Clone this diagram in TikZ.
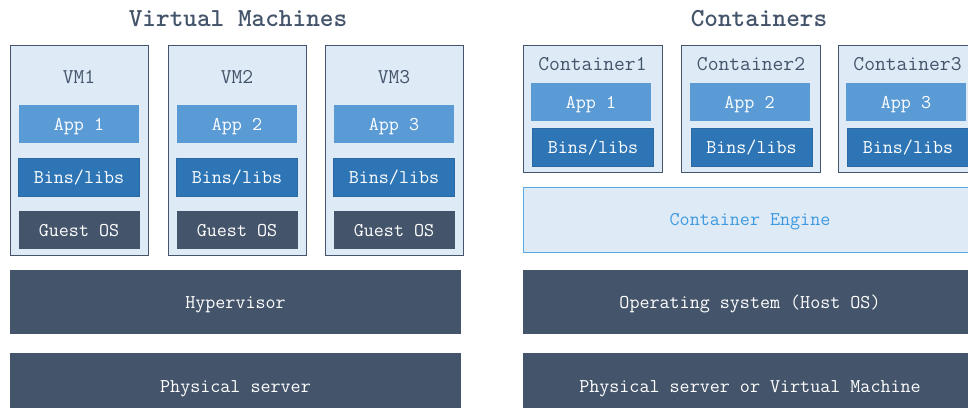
\documentclass[tikz,border=0pt]{standalone}
\usepackage{fontspec}
\definecolor{slate}{HTML}{44546A}
\definecolor{paleblue}{HTML}{DEEAF6}
\definecolor{appblue}{HTML}{5B9BD5}
\definecolor{binblue}{HTML}{2E75B6}
\definecolor{binedge}{HTML}{2A69A3}
\definecolor{engblue}{HTML}{5AA7E6}
\definecolor{engtext}{HTML}{3D9AE0}
\begin{document}
\begin{tikzpicture}[x=1pt,y=-1pt,
  base/.style={rectangle,inner sep=0pt,outer sep=0pt,text height=14pt,text depth=2pt,font=\ttfamily\fontsize{19.5}{23}\selectfont},
  outer/.style={base,fill=paleblue,draw=slate,line width=1pt,minimum width=138pt},
  appbox/.style={base,fill=appblue,text=white,minimum width=120pt,minimum height=38pt},
  binbox/.style={base,fill=binblue,draw=binedge,line width=0.6pt,text=white,minimum width=121pt,minimum height=38pt},
  guestbox/.style={base,fill=slate,text=white,minimum width=121pt,minimum height=38pt},
  layer/.style={base,fill=slate,text=white,minimum height=64pt},
  lbl/.style={base,text=slate,font=\ttfamily\fontsize{21}{25}\selectfont},
  ttl/.style={rectangle,inner sep=0pt,text=slate,font=\ttfamily\bfseries\fontsize{26}{31}\selectfont}]
\useasboundingbox (0,0) rectangle (968,407);
\clip (0,0) rectangle (968,407);
% Virtual machines
\node[ttl] (vmtitle) at (238,19) {Virtual Machines};
\foreach \i/\cx in {1/79,2/237,3/394}{
  \node[outer,minimum height=210pt] (vm\i) at (\cx,150) {};
  \node[lbl] (vm\i lbl) at (\cx,77) {VM\i};
  \node[appbox] (vm\i app) at (\cx,124) {App \i};
  \node[binbox] (vm\i bin) at (\cx,177) {Bins/libs};
  \node[guestbox] (vm\i os) at (\cx,230) {Guest OS};
}
\node[layer,minimum width=451pt] (hyper) at (235.5,302) {Hypervisor};
\node[layer,minimum width=451pt] (phys1) at (235.5,385) {};
\node[base,text=white] (phys1txt) at (235.5,386) {Physical server};
% Containers
\node[ttl] (cttitle) at (759,19) {Containers};
\foreach \i/\cx in {1/592.5,2/751,3/907.5}{
  \node[outer,minimum width=139pt,minimum height=127pt] (c\i) at (\cx,108.5) {};
  \node[lbl] (c\i lbl) at (\cx,64) {Container\i};
  \node[appbox] (c\i app) at (\cx-1.5,102) {App \i};
  \node[binbox] (c\i bin) at (\cx+0.5,147) {Bins/libs};
}
\node[base,fill=paleblue,draw=engblue,line width=1pt,text=engtext,minimum width=454pt,minimum height=65pt] (engine) at (750,219.5) {Container Engine};
\node[layer,minimum width=454pt] (hostos) at (750,302) {Operating system (Host OS)};
\node[layer,minimum width=454pt] (phys2) at (750,385) {};
\node[base,text=white] (phys2txt) at (750,386) {Physical server or Virtual Machine};
\end{tikzpicture}
\end{document}
